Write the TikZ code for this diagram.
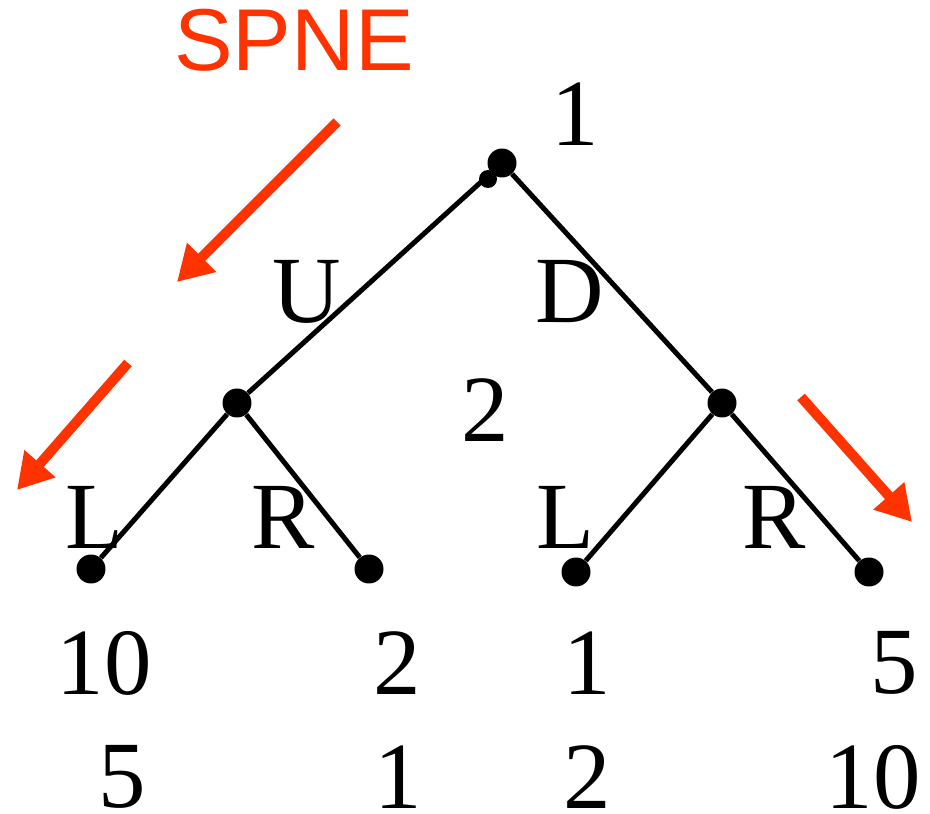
\documentclass[tikz,border=0pt]{standalone}
\usepackage{fontspec}
\setmainfont{Liberation Serif}
\setsansfont{Liberation Sans}
\usepackage{xcolor}
\definecolor{spred}{HTML}{FF3300}
\usetikzlibrary{arrows.meta}

\begin{document}
\begin{tikzpicture}[x=0.02cm,y=-0.02cm,
  dec/.style={circle,fill=black,inner sep=0pt,minimum size=0.58cm},
  tinydec/.style={circle,fill=black,inner sep=0pt,minimum size=0.36cm},
  branch/.style={line width=0.1cm},
  lab/.style={inner sep=0pt,font=\fontsize{54}{60}\selectfont},
  eqarrow/.style={spred,line width=0.2cm,-{Triangle[length=0.7cm,width=0.78cm]}}]
\useasboundingbox (0,0) rectangle (930,814);
% decision nodes
\node[dec] (root) at (502,163) {};
\node[tinydec] (rootb) at (488,179) {};
\node[dec] (a) at (237,403) {};
\node[dec] (b) at (722,403) {};
% terminal nodes
\foreach \n/\x/\y in {1/91/569,2/369/569,3/576/572,4/869/572}
  \node[dec] (t\n) at (\x,\y) {};
% branches
\draw[branch] (root) -- (a) -- (t1) (a) -- (t2);
\draw[branch] (root) -- (b) -- (t3) (b) -- (t4);
% players and actions
\node[lab] (pl1) at (575,114) {1};
\node[lab] (pl2) at (485,410) {2};
\node[lab] (up) at (307,292) {U};
\node[lab] (down) at (570,292) {D};
\foreach \n/\t/\x in {la/L/94,ra/R/283,lb/L/565,rb/R/774}
  \node[lab] (\n) at (\x,517) {\t};
% payoffs
\foreach \n/\p/\x in {1/10/104,2/2/397,3/1/587,4/5/894}
  \node[lab] (u\n) at (\x,663) {\p};
\foreach \n/\p/\x in {1/5/122,2/1/398,3/2/587,4/10/873}
  \node[lab] (v\n) at (\x,777) {\p};
% SPNE path
\node[inner sep=0pt,text=spred,font=\sffamily\fontsize{50}{56}\selectfont] (spne) at (294,40) {SPNE};
\coordinate (a1s) at (337,122); \coordinate (a1e) at (177,282);
\coordinate (a2s) at (128,363); \coordinate (a2e) at (17,490);
\coordinate (a3s) at (801,397); \coordinate (a3e) at (912,522);
\foreach \k in {1,2,3}
  \draw[eqarrow] (a\k s) -- (a\k e);
\end{tikzpicture}
\end{document}
